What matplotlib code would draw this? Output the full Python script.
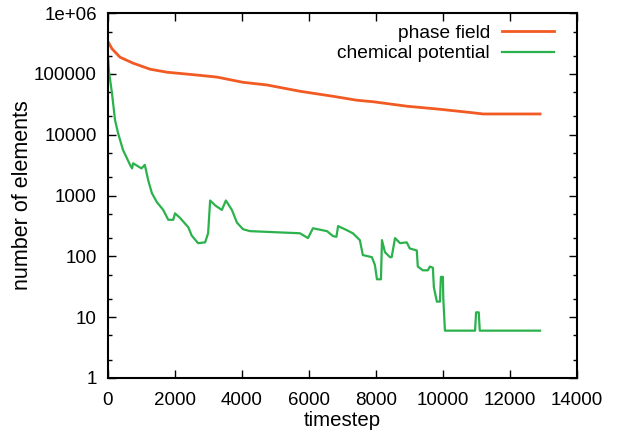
import matplotlib
matplotlib.use("Agg")
import matplotlib.pyplot as plt
from matplotlib.ticker import FixedLocator, NullFormatter

plt.rcParams['font.family'] = ['Liberation Sans', 'DejaVu Sans']

# phase field (red)
phase_t = [0, 120, 358, 746, 1254, 1761, 2746, 3250, 4030, 4746, 5731,
           6716, 7433, 7910, 8925, 9910, 10900, 11200, 12900]
phase_n = [340000, 260000, 189000, 151000, 120000, 107000, 95000, 89000,
           73000, 66000, 52000, 43000, 37000, 35000, 29500, 26300, 23000,
           22000, 22000]

# chemical potential (green)
chem_t = [0, 30, 120, 210, 300, 450, 660, 720, 750, 1000, 1100, 1200, 1310,
          1460, 1650, 1800, 1950, 2000, 2150, 2400, 2500, 2690, 2900, 2990,
          3050, 3200, 3400, 3520, 3700, 3850, 4030, 4240, 5730, 5970, 6120,
          6540, 6720, 6820, 6870, 7130, 7310, 7520, 7610, 7880, 7970, 8030,
          8150, 8180, 8270, 8420, 8470, 8570, 8720, 8920, 9010, 9220, 9250,
          9400, 9550, 9610, 9700, 9730, 9820, 9910, 9940, 10000, 10010, 10060,
          10960, 10990, 11070, 11100, 12900]
chem_n = [200000, 110000, 48000, 17500, 10700, 5600, 3200, 2800, 3400, 2800,
          3200, 1800, 1100, 780, 580, 400, 400, 510, 430, 300, 220, 165, 170,
          240, 830, 690, 580, 830, 580, 360, 280, 260, 240, 200, 290, 260,
          215, 210, 315, 270, 240, 185, 105, 97, 72, 42, 42, 185, 117, 97, 97,
          200, 165, 170, 135, 125, 68, 59, 59, 68, 65, 31, 18, 18, 46, 46, 21,
          6, 6, 12, 12, 6, 6]

y_ticks = [1, 10, 100, 1000, 10000, 100000, 1000000]
y_labels = ['1', '10', '100', '1000', '10000', '100000', '1e+06']
y_minor = [2, 5, 20, 50, 200, 500, 2000, 5000, 20000, 50000, 200000, 500000]
x_ticks = [0, 2000, 4000, 6000, 8000, 10000, 12000, 14000]

fig = plt.figure(figsize=(6.17, 4.4), dpi=100)
ax = fig.add_axes([0.175, 0.141, 0.76, 0.829])

ax.plot(phase_t, phase_n, color='#f25a24', linewidth=2.0, label='phase field')
ax.plot(chem_t, chem_n, color='#2bb24c', linewidth=1.6, label='chemical potential')

ax.set_yscale('log')
ax.set_xlim(0, 14000)
ax.set_ylim(1, 1e6)
ax.xaxis.set_major_locator(FixedLocator(x_ticks))
ax.set_xticklabels([str(t) for t in x_ticks])
ax.yaxis.set_major_locator(FixedLocator(y_ticks))
ax.set_yticklabels(y_labels)
ax.yaxis.set_minor_locator(FixedLocator(y_minor))
ax.yaxis.set_minor_formatter(NullFormatter())

ax.tick_params(which='both', direction='in', top=True, right=True,
               labelsize=13.5, width=1.0)
ax.tick_params(axis='x', pad=10)
ax.tick_params(axis='y', pad=8)
ax.tick_params(which='major', length=6)
ax.tick_params(which='minor', length=3)
for s in ax.spines.values():
    s.set_linewidth(1.5)

ax.set_xlabel('timestep', fontsize=14.7, labelpad=1.5)
ax.set_ylabel('number of elements', fontsize=15.5, labelpad=1)

ax.legend(loc='upper right', frameon=False, markerfirst=False, fontsize=13.8,
          handlelength=2.7, handletextpad=0.62, borderaxespad=0,
          labelspacing=0.15, bbox_to_anchor=(0.967, 0.99))

fig.savefig('out.png', dpi=100)
